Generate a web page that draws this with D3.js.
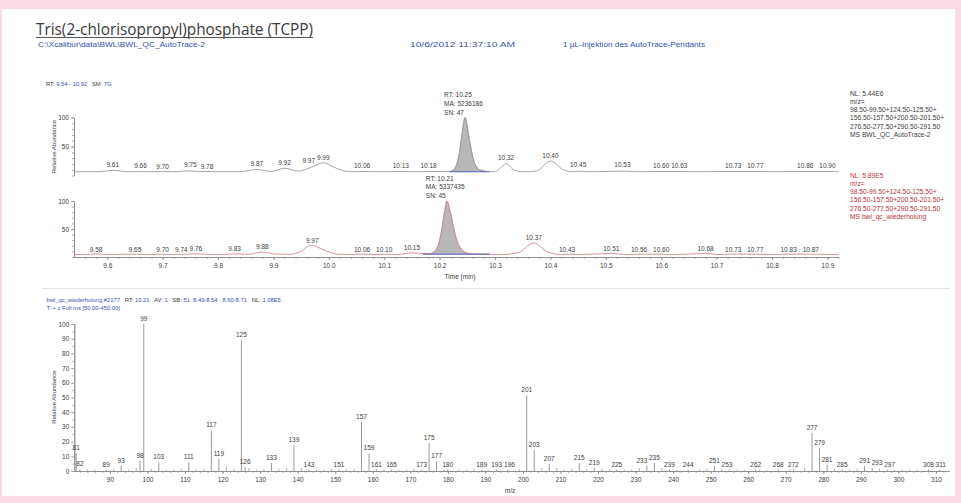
<!DOCTYPE html>
<html><head><meta charset="utf-8">
<script src="https://cdn.jsdelivr.net/npm/d3@7"></script>
<style>html,body{margin:0;padding:0;background:#f9dae5;}svg{display:block}text{white-space:pre}</style>
</head><body><svg id="c" width="961" height="503"></svg>
<script>
// ---------------- data ----------------
const titleText = "Tris(2-chlorisopropyl)phosphate (TCPP)";
const fileInfo = ["C:\\Xcalibur\\data\\BWL\\BWL_QC_AutoTrace-2", "10/6/2012 11:37:10 AM", "1 µL-Injektion des AutoTrace-Pendants"];
const rangeHeader = [["RT: ", 0], ["9.54 - 10.92", 1], ["   SM: ", 0], ["7G", 1]];
const timeDomain = [9.54, 10.92];
const timeTicks = [9.6, 9.7, 9.8, 9.9, 10.0, 10.1, 10.2, 10.3, 10.4, 10.5, 10.6, 10.7, 10.8, 10.9];
const chromTicks = [50, 100];

// trace 1 (BWL_QC_AutoTrace-2): [time, relative abundance]
const trace1 = [[9.54,6.5],[9.58,6.5],[9.60,8],[9.61,9],[9.625,7.5],[9.64,6.5],[9.66,6.8],[9.68,6.5],[9.70,6.8],[9.72,6.5],[9.74,7.5],[9.75,7.8],[9.765,6.8],[9.78,7],[9.80,6.5],[9.84,6.5],[9.87,10.5],[9.895,7],[9.92,12.4],[9.945,7.5],[9.96,11],[9.975,17],[9.99,22],[10.01,14],[10.03,7.5],[10.045,6.5],[10.06,7],[10.09,6.5],[10.13,6.8],[10.16,6.5],[10.18,7],[10.21,6.8],[10.218,7],[10.225,9.5],[10.23,17],[10.235,35],[10.24,68],[10.246,100],[10.252,72],[10.257,45],[10.262,24],[10.268,13],[10.275,9],[10.285,7],[10.30,6.5],[10.31,13],[10.32,20.5],[10.335,9],[10.35,6.5],[10.375,7.5],[10.40,25],[10.425,9],[10.44,6.5],[10.45,7.5],[10.47,6.5],[10.53,7.5],[10.56,6.5],[10.60,7],[10.63,7],[10.66,6.5],[10.73,7],[10.77,7],[10.80,6.5],[10.86,7],[10.90,7],[10.92,6.5]];
const labels1Time = [9.61,9.66,9.70,9.75,9.78,9.87,9.92,9.97,9.99,10.06,10.13,10.18,10.32,10.40,10.45,10.53,10.60,10.63,10.73,10.77,10.86,10.90];
const labels1Height = [9,6.5,6,7.8,6,10.7,12.4,15.2,21,6.5,6.5,7,20.3,25,7.8,7.8,6.5,6.5,7.5,7.5,6.5,6.5];
const peak1 = {rt: 10.25, apex: 10.246, info: ["RT: 10.25", "MA: 5236186", "SN: 47"], base: [10.218, 10.29], baseLevel: 6.5};
const legend1 = ["NL: 5.44E6", "m/z=", "98.50-99.50+124.50-125.50+", "156.50-157.50+200.50-201.50+", "276.50-277.50+290.50-291.50", "MS BWL_QC_AutoTrace-2"];

// trace 2 (bwl_qc_wiederholung)
const trace2 = [[9.54,4.5],[9.56,4.5],[9.58,5.5],[9.60,4.5],[9.65,5],[9.67,4.5],[9.70,5],[9.72,4.5],[9.74,5],[9.76,5.5],[9.79,4.5],[9.81,4.5],[9.83,5.5],[9.855,4.8],[9.88,9],[9.905,5],[9.93,5],[9.95,10],[9.967,21],[9.995,11],[10.015,5],[10.04,4.5],[10.06,5],[10.08,4.5],[10.10,5],[10.125,4.5],[10.15,7.5],[10.17,6],[10.18,6],[10.19,9],[10.197,20],[10.204,50],[10.209,82],[10.213,100],[10.218,86],[10.224,58],[10.23,33],[10.237,17],[10.245,9],[10.255,6],[10.27,5],[10.29,4.8],[10.31,4.5],[10.34,7],[10.37,25],[10.395,9],[10.42,4.5],[10.43,5],[10.46,4.5],[10.51,6.5],[10.535,4.5],[10.56,5],[10.60,5],[10.63,4.5],[10.68,6.5],[10.70,4.5],[10.73,5],[10.77,5],[10.80,4.5],[10.83,5],[10.87,5],[10.92,4.5]];
const labels2Time = [9.58,9.65,9.70,9.74,9.76,9.83,9.88,9.97,10.06,10.10,10.15,10.37,10.43,10.51,10.56,10.60,10.68,10.73,10.77,10.83,10.87];
const labels2Height = [3.6,3.6,3.6,3.6,5.4,5.4,9.5,21.4,3.6,3.6,7.7,26,3.6,6.6,3.6,3.6,6.6,3.6,3.6,3.6,3.6];
const peak2 = {rt: 10.21, apex: 10.213, info: ["RT: 10.21", "MA: 5337435", "SN: 45"], base: [10.17, 10.29], baseLevel: 5};
const legend2 = ["NL: 5.89E5", "m/z=", "98.50-99.50+124.50-125.50+", "156.50-157.50+200.50-201.50+", "276.50-277.50+290.50-291.50", "MS bwl_qc_wiederholung"];

// mass spectrum
const specHeader = [["bwl_qc_wiederholung #2177", 1], ["   RT: ", 0], ["10.21", 1], ["   AV: ", 0], ["1", 1], ["   SB: ", 0], ["51  8.49-8.54 , 8.60-8.71", 1], ["   NL: ", 0], ["1.08E5", 1]];
const specHeader2 = "T: + c Full ms [50.00-450.00]";
const mzDomain = [80.5, 313.5];
const mzTicks = [90,100,110,120,130,140,150,160,170,180,190,200,210,220,230,240,250,260,270,280,290,300,310];
const abundTicks = [0,10,20,30,40,50,60,70,80,90,100];
const peakMz =    [81,82,89,93,98,99,103,111,117,119,125,126,133,139,143,151,157,159,161,165,173,175,177,180,189,193,196,201,203,207,215,219,225,233,235,239,244,251,253,262,268,272,277,279,281,285,291,293,297,308,311];
const peakAbund = [12.3,1.2,1,3.7,7,100,5.8,5.8,27.6,8.3,88.8,2.6,5.6,17.8,1,1,33.5,12,1,1,1,19,6.5,1,1,1,1,51.4,14.4,5,5.6,2.2,1,3.7,5.6,1,1,3.4,1,1,1,1,26,15.6,4.3,1,3.4,2,1,1,1];
const minorMz =    [84,86,91,95,97,101,105,107,109,113,115,121,123,127,129,131,135,137,141,145,147,149,153,155,163,167,169,171,179,183,185,187,191,199,205,209,211,213,217,221,223,227,229,231,237,241,247,249,255,257,259,263,265,271,275,283,287,289,295,299,301,303,305];
const minorAbund = [1,1,1.5,1,2,1.5,1,1,1.5,1,1.5,3,1.5,2,1,1.5,1.5,2,2,1,1,1.5,1,1.5,1,1,1,1.5,1,1,1,1,1,1.5,2,2,1,1.5,1.5,1.5,1,1,1,2,2,1,1,1.5,1,1,1,1,1,1,2,1.5,1,1.5,2,1,1,1,1];

// ---------------- drawing ----------------
const svg = d3.select("#c");
const FONT = "'Liberation Sans', Arial, sans-serif";
const BLUE = "#3a4fb4", DARK = "#3c3c3c", RED = "#b8323a";
const fs = 6.5;

svg.append("rect").attr("x", 2).attr("y", 9).attr("width", 953).attr("height", 487).attr("fill", "#fff");

// simple label de-overlap: keeps labels centred on their mark unless they collide
function spread(sel, xs, prio) {
  const nodes = sel.nodes();
  const placed = [];
  const order = d3.range(nodes.length).sort((a, b) => prio[b] - prio[a]);
  order.forEach(i => {
    const n = nodes[i];
    const w = n.getComputedTextLength();
    const y = +n.getAttribute("y");
    const hit = cx => placed.some(p => Math.abs(p.y - y) < 6 && Math.abs(p.cx - cx) < (p.w + w) / 2 + 1.5);
    let best = xs[i];
    if (hit(best)) {
      for (let d = 0.5; d <= 16; d += 0.5) {
        if (!hit(xs[i] + d)) { best = xs[i] + d; break; }
        if (!hit(xs[i] - d)) { best = xs[i] - d; break; }
      }
    }
    n.setAttribute("x", best);
    placed.push({cx: best, y, w});
  });
}

// title
svg.append("text").attr("x", 36).attr("y", 34.5).attr("font-family", "'Open Sans', sans-serif")
  .attr("font-size", 17).attr("fill", "#3a3a3a").attr("textLength", 277).attr("lengthAdjust", "spacingAndGlyphs").text(titleText);
svg.append("line").attr("x1", 36).attr("x2", 313).attr("y1", 37.5).attr("y2", 37.5).attr("stroke", "#555").attr("stroke-width", 1);
const infoX = [38, 410, 563], infoW = [167, 105, 142];
fileInfo.forEach((t, i) => svg.append("text").attr("x", infoX[i]).attr("y", 47).attr("font-family", FONT).attr("font-size", 7.5)
  .attr("fill", BLUE).attr("textLength", infoW[i]).attr("lengthAdjust", "spacingAndGlyphs").text(t));

function richText(x, y, parts) {
  const t = svg.append("text").attr("x", x).attr("y", y).attr("font-family", FONT).attr("font-size", 5.8);
  parts.forEach(p => t.append("tspan").attr("fill", p[1] ? BLUE : DARK).text(p[0]));
  return t;
}
richText(46, 85.5, rangeHeader);

// separators
svg.append("line").attr("x1", 42).attr("x2", 950).attr("y1", 288.5).attr("y2", 288.5).attr("stroke", "#e6e6e6");

const xT = d3.scaleLinear().domain(timeDomain).range([74, 838.5]);
const minorTime = d3.range(9.56, 10.925, 0.02);

function chromPanel(trace, yRange, color, lt, lh, peak, legend, legColor, legY, labOff, showX, showYLabel) {
  const y = d3.scaleLinear().domain([0, 100]).range(yRange);
  const g = svg.append("g");
  g.append("g").attr("transform", `translate(${xT.range()[0]},0)`)
    .call(d3.axisLeft(y).tickValues(chromTicks).tickSize(3).tickSizeOuter(0).tickPadding(2));
  g.append("g").attr("transform", `translate(${xT.range()[0]},0)`)
    .call(d3.axisLeft(y).tickValues(d3.range(0, 101, 10)).tickSize(1.8).tickSizeOuter(0).tickFormat(""));
  if (showX) {
    g.append("g").attr("transform", `translate(0,${yRange[0]})`)
      .call(d3.axisBottom(xT).tickValues(timeTicks).tickFormat(d3.format(".1f")).tickSize(3).tickSizeOuter(0).tickPadding(3));
    g.append("g").attr("transform", `translate(0,${yRange[0]})`)
      .call(d3.axisBottom(xT).tickValues(minorTime).tickFormat("").tickSize(1.8).tickSizeOuter(0));
    g.append("text").attr("x", 460).attr("y", yRange[0] + 22).attr("text-anchor", "middle").attr("font-family", FONT)
      .attr("font-size", fs).attr("fill", DARK).text("Time (min)");
  }
  g.selectAll(".domain, .tick line").attr("stroke", "#8a8a8a").attr("stroke-width", 0.8);
  g.selectAll(".tick text").attr("font-family", FONT).attr("font-size", fs).attr("fill", DARK);
  if (showYLabel) {
    g.append("text").attr("transform", `translate(55.5,${(yRange[0] + yRange[1]) / 2}) rotate(-90)`).attr("text-anchor", "middle")
      .attr("font-family", FONT).attr("font-size", 6).attr("fill", DARK).text("Relative Abundance");
  }
  const inPeak = trace.filter(d => d[0] >= peak.base[0] && d[0] <= peak.base[1]);
  g.append("path").datum(inPeak)
    .attr("d", d3.area().x(d => xT(d[0])).y0(y(peak.baseLevel)).y1(d => y(d[1])).curve(d3.curveMonotoneX))
    .attr("fill", "#b8b8b8").attr("stroke", "#8c8c8c").attr("stroke-width", 0.6);
  g.append("path").datum(trace)
    .attr("d", d3.line().x(d => xT(d[0])).y(d => y(d[1])).curve(d3.curveMonotoneX))
    .attr("fill", "none").attr("stroke", color).attr("stroke-width", 0.9);
  g.append("line").attr("x1", xT(peak.base[0])).attr("x2", xT(peak.base[1]))
    .attr("y1", y(peak.baseLevel)).attr("y2", y(peak.baseLevel)).attr("stroke", "#5866d6").attr("stroke-width", 0.9);
  const labs = g.selectAll(".pl").data(lt).join("text").attr("x", d => xT(d)).attr("y", (d, i) => y(lh[i]) - labOff)
    .attr("text-anchor", "middle").attr("font-family", FONT).attr("font-size", fs).attr("fill", DARK)
    .text(d => d3.format(".2f")(d));
  spread(labs, lt.map(xT), lh);
  peak.info.forEach((t, i) => g.append("text").attr("x", xT(peak.apex) - 21).attr("y", y(100) - 20.5 + i * 8.8)
    .attr("font-family", FONT).attr("font-size", fs).attr("fill", DARK).text(t));
  legend.forEach((t, i) => g.append("text").attr("x", 850).attr("y", legY + i * 8.3)
    .attr("font-family", FONT).attr("font-size", 6.7).attr("fill", legColor).text(t));
}

chromPanel(trace1, [175.5, 117.5], "#9a9a9a", labels1Time, labels1Height, peak1, legend1, DARK, 95.5, 3.5, false, true);
chromPanel(trace2, [257, 201], "#d9848e", labels2Time, labels2Height, peak2, legend2, RED, 177.5, 2.5, true, false);

// ---------------- spectrum ----------------
richText(46.5, 301.5, specHeader);
svg.append("text").attr("x", 46.5).attr("y", 310).attr("font-family", FONT).attr("font-size", 5.8).attr("fill", BLUE).text(specHeader2);

const xM = d3.scaleLinear().domain(mzDomain).range([74.3, 949.1]);
const yA = d3.scaleLinear().domain([0, 100]).range([471, 324]);
const sg = svg.append("g");
sg.append("g").attr("transform", "translate(74.3,0)")
  .call(d3.axisLeft(yA).tickValues(abundTicks).tickSize(3).tickSizeOuter(0).tickPadding(2));
sg.append("g").attr("transform", "translate(74.3,0)")
  .call(d3.axisLeft(yA).tickValues(d3.range(5, 100, 10)).tickSize(1.8).tickSizeOuter(0).tickFormat(""));
sg.append("g").attr("transform", "translate(0,471)")
  .call(d3.axisBottom(xM).tickValues(mzTicks).tickSize(3).tickSizeOuter(0).tickPadding(3));
sg.append("g").attr("transform", "translate(0,471)")
  .call(d3.axisBottom(xM).tickValues(d3.range(82, 313, 2)).tickSize(1.8).tickSizeOuter(0).tickFormat(""));
sg.selectAll(".domain, .tick line").attr("stroke", "#8a8a8a").attr("stroke-width", 0.8);
sg.selectAll(".tick text").attr("font-family", FONT).attr("font-size", fs).attr("fill", DARK);
sg.append("text").attr("transform", "translate(55.5,397) rotate(-90)").attr("text-anchor", "middle")
  .attr("font-family", FONT).attr("font-size", 6).attr("fill", DARK).text("Relative Abundance");
sg.append("text").attr("x", 510).attr("y", 493).attr("text-anchor", "middle").attr("font-family", FONT)
  .attr("font-size", fs).attr("fill", DARK).text("m/z");

sg.selectAll(".mn").data(minorMz).join("line").attr("x1", d => xM(d)).attr("x2", d => xM(d))
  .attr("y1", yA(0)).attr("y2", (d, i) => yA(minorAbund[i])).attr("stroke", "#a0a0a0").attr("stroke-width", 0.8);
sg.selectAll(".pk").data(peakMz).join("line").attr("x1", d => xM(d)).attr("x2", d => xM(d))
  .attr("y1", yA(0)).attr("y2", (d, i) => yA(peakAbund[i])).attr("stroke", "#8f8f8f").attr("stroke-width", 0.9);
const pkl = sg.selectAll(".pkl").data(peakMz).join("text").attr("x", d => xM(d)).attr("y", (d, i) => yA(peakAbund[i]) - 3)
  .attr("text-anchor", "middle").attr("font-family", FONT).attr("font-size", fs).attr("fill", DARK).text(d => d);
spread(pkl, peakMz.map(xM), peakAbund);
</script></body></html>
